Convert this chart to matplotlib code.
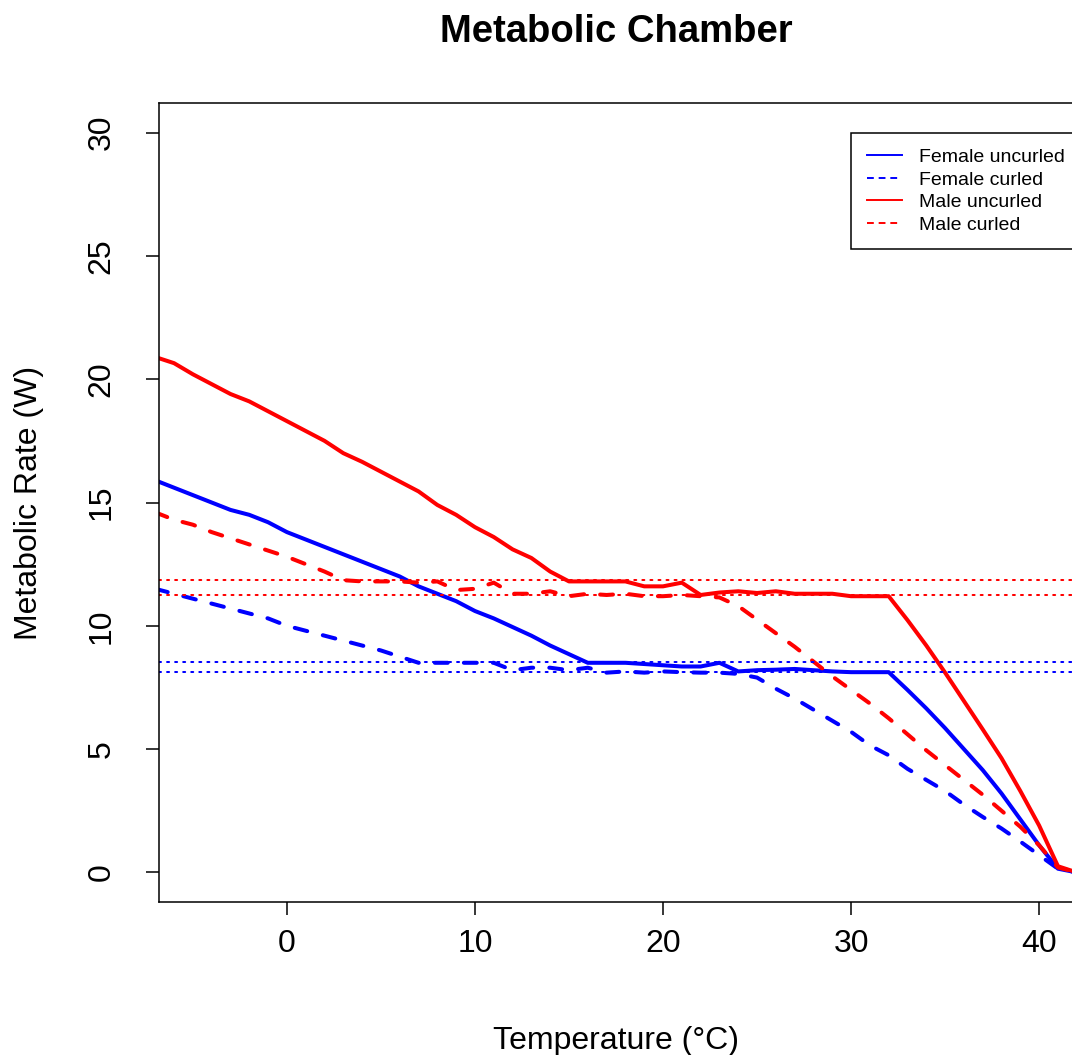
import numpy as np
import matplotlib
matplotlib.use("Agg")
import matplotlib.pyplot as plt
from matplotlib.lines import Line2D

plt.rcParams["font.family"] = ["Liberation Sans", "DejaVu Sans"]

# ambient temperature (deg C)
temp = [-7, -6, -5, -4, -3, -2, -1, 0, 1, 2,
        3, 4, 5, 6, 7, 8, 9, 10, 11, 12,
        13, 14, 15, 16, 17, 18, 19, 20, 21, 22,
        23, 24, 25, 26, 27, 28, 29, 30, 31, 32,
        33, 34, 35, 36, 37, 38, 39, 40, 41, 42]

# metabolic rate (W)
female_uncurled = [15.9, 15.6, 15.3, 15.0, 14.7, 14.5, 14.2, 13.8, 13.5, 13.2,
                   12.9, 12.6, 12.3, 12.0, 11.6, 11.3, 11.0, 10.6, 10.3, 9.95,
                   9.6, 9.2, 8.85, 8.5, 8.5, 8.5, 8.45, 8.4, 8.35, 8.35,
                   8.5, 8.15, 8.2, 8.22, 8.25, 8.2, 8.15, 8.12, 8.12, 8.12,
                   7.4, 6.65, 5.85, 5.0, 4.15, 3.2, 2.15, 1.1, 0.15, 0.0]
female_curled = [11.5, 11.3, 11.1, 10.9, 10.7, 10.5, 10.3, 10.0, 9.8, 9.6,
                 9.4, 9.2, 9.0, 8.75, 8.5, 8.5, 8.5, 8.5, 8.5, 8.2,
                 8.3, 8.3, 8.2, 8.3, 8.1, 8.15, 8.1, 8.15, 8.12, 8.1,
                 8.1, 8.05, 7.9, 7.45, 7.05, 6.6, 6.15, 5.7, 5.15, 4.75,
                 4.2, 3.75, 3.3, 2.75, 2.25, 1.78, 1.25, 0.7, 0.15, 0.0]
male_uncurled = [20.9, 20.65, 20.2, 19.8, 19.4, 19.1, 18.7, 18.3, 17.9, 17.5,
                 17.0, 16.65, 16.25, 15.85, 15.45, 14.9, 14.5, 14.0, 13.6, 13.1,
                 12.75, 12.2, 11.8, 11.8, 11.8, 11.8, 11.6, 11.6, 11.75, 11.25,
                 11.35, 11.4, 11.33, 11.4, 11.3, 11.3, 11.3, 11.2, 11.2, 11.2,
                 10.23, 9.2, 8.1, 6.95, 5.8, 4.63, 3.3, 1.9, 0.25, 0.0]
male_curled = [14.6, 14.3, 14.1, 13.8, 13.55, 13.3, 13.05, 12.8, 12.5, 12.2,
               11.85, 11.8, 11.8, 11.8, 11.75, 11.8, 11.45, 11.5, 11.75, 11.3,
               11.3, 11.4, 11.2, 11.3, 11.25, 11.3, 11.2, 11.2, 11.25, 11.2,
               11.15, 10.8, 10.25, 9.7, 9.15, 8.55, 7.95, 7.4, 6.85, 6.25,
               5.6, 4.95, 4.35, 3.75, 3.15, 2.5, 1.85, 1.1, 0.2, 0.0]

# resting levels (W)
female_levels = [8.53, 8.12]
male_levels = [11.85, 11.25]

BLUE = "#0000ff"
RED = "#ff0000"

fig = plt.figure(figsize=(10.72, 10.55), dpi=100)
W, H = 1072, 1055
left, right, top, bottom = 159, 1073, 103, 902
ax = fig.add_axes([left / W, (H - bottom) / H, (right - left) / W, (bottom - top) / H])

lw = 2.9
dash = (3.2, 4.0)
ax.plot(temp, female_uncurled, color=BLUE, lw=lw, solid_capstyle="round", solid_joinstyle="round")
ax.plot(temp, female_curled, color=BLUE, lw=lw, dashes=dash, dash_capstyle="round")
ax.plot(temp, male_uncurled, color=RED, lw=lw, solid_capstyle="round", solid_joinstyle="round")
ax.plot(temp, male_curled, color=RED, lw=lw, dashes=dash, dash_capstyle="round")

for v in female_levels:
    ax.axhline(v, color=BLUE, lw=1.45, dashes=(1, 3), dash_capstyle="round")
for v in male_levels:
    ax.axhline(v, color=RED, lw=1.45, dashes=(1, 3), dash_capstyle="round")

ax.set_xlim(-6.8, 41.8)
ax.set_ylim(-1.2, 31.2)
ax.set_xticks([0, 10, 20, 30, 40])
ax.set_yticks([0, 5, 10, 15, 20, 25, 30])
for lab in ax.get_yticklabels():
    lab.set_rotation(90)
    lab.set_va("center")
ax.tick_params(direction="out", length=9.5, width=1.1, labelsize=23, pad=10)
ax.tick_params(axis="y", pad=21)
for s in ax.spines.values():
    s.set_linewidth(1.1)

ax.set_xlabel("Temperature (°C)", fontsize=23, labelpad=48)
ax.set_ylabel("Metabolic Rate (W)", fontsize=23, labelpad=31)
ax.set_title("Metabolic Chamber", fontsize=27.5, fontweight="bold", pad=44)

handles = [
    Line2D([], [], color=BLUE, lw=1.4),
    Line2D([], [], color=BLUE, lw=1.4, dashes=(3.5, 2.5)),
    Line2D([], [], color=RED, lw=1.4),
    Line2D([], [], color=RED, lw=1.4, dashes=(3.5, 2.5)),
]
labels = ["Female uncurled", "Female curled", "Male uncurled", "Male curled"]
leg = ax.legend(handles, labels, loc="upper left",
                bbox_to_anchor=((851 - left) / (right - left), (bottom - 133) / (bottom - top)),
                fontsize=14, handlelength=1.8, handletextpad=0.9, labelspacing=0.25,
                borderpad=0.8, borderaxespad=0, fancybox=False, framealpha=1)
leg.get_frame().set_edgecolor("black")
leg.get_frame().set_linewidth(1.1)

fig.savefig("out.png", dpi=100)
